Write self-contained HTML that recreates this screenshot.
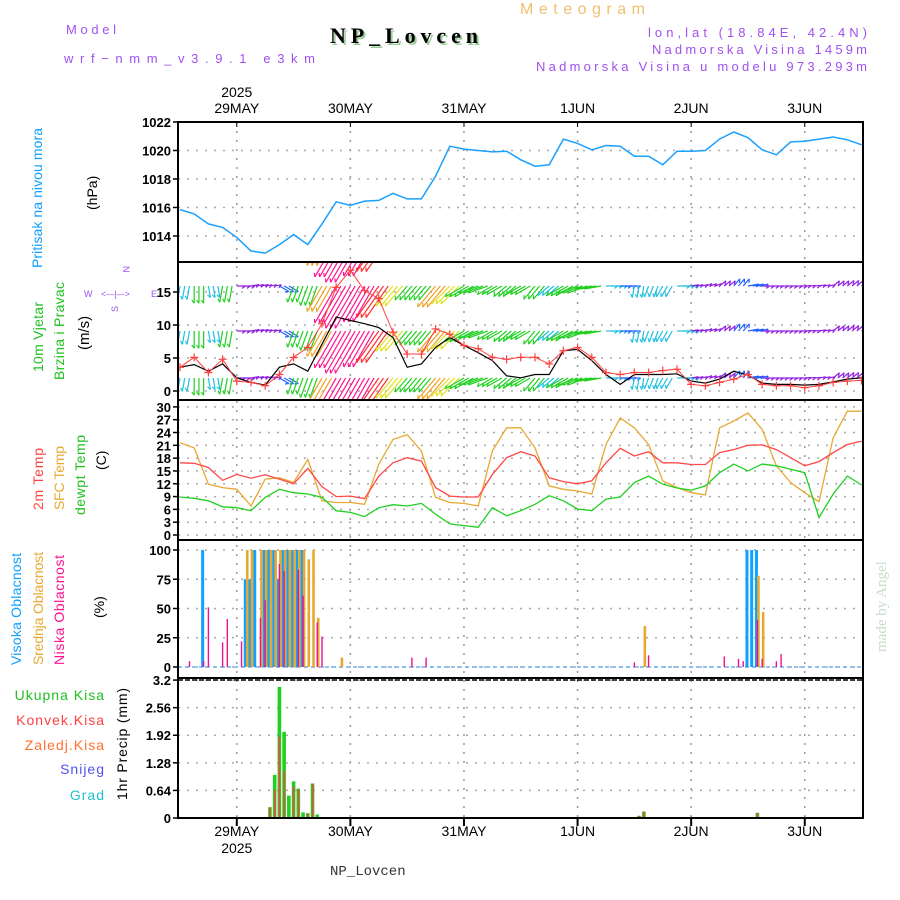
<!DOCTYPE html>
<html><head><meta charset="utf-8"><style>
html,body{margin:0;padding:0;background:#fff;}
svg{display:block;font-family:"Liberation Sans",sans-serif;}
.tk{font-size:13px;font-weight:bold;fill:#000;}
.hd{font-size:13px;fill:#a050f0;}
</style></head><body>
<svg id="chart" width="900" height="900" viewBox="0 0 900 900" xmlns="http://www.w3.org/2000/svg">
<text x="520" y="14" font-size="16" fill="#f0c070" textLength="125">Meteogram</text>
<text x="332" y="45" font-size="22" font-weight="bold" font-family="Liberation Serif,serif" fill="#9c9" textLength="148">NP_Lovcen</text>
<text x="330" y="43" font-size="22" font-weight="bold" font-family="Liberation Serif,serif" fill="#000" textLength="148">NP_Lovcen</text>
<text class="hd" x="66" y="34" textLength="50">Model</text>
<text class="hd" x="64" y="63" font-size="15" textLength="251">wrf−nmm_v3.9.1 e3km</text>
<text class="hd" x="648" y="37" textLength="219">lon,lat (18.84E, 42.4N)</text>
<text class="hd" x="652" y="54" textLength="215">Nadmorska Visina 1459m</text>
<text class="hd" x="536" y="71" textLength="331">Nadmorska Visina u modelu 973.293m</text>
<g id="grid"></g><g id="marks"></g><g id="axes"></g>
<g font-size="14">
<text transform="translate(42,268) rotate(-90)" fill="#10a0ff" textLength="140">Pritisak na nivou mora</text>
<text transform="translate(97,210) rotate(-90)" fill="#000">(hPa)</text>
<text transform="translate(43,372) rotate(-90)" fill="#20c020" textLength="70">10m Vjetar</text>
<text transform="translate(64,380) rotate(-90)" fill="#20c020" textLength="98">Brzina i Pravac</text>
<text transform="translate(89,350) rotate(-90)" fill="#000" font-size="15">(m/s)</text>
<text font-size="9" fill="#a050f0" x="84" y="297">W</text>
<text font-size="9" fill="#a050f0" x="101" y="297">&lt;-–|–-&gt;</text>
<text font-size="9" fill="#a050f0" x="151" y="297">E</text>
<text transform="translate(123,266) rotate(90)" font-size="9" fill="#a050f0">N</text>
<text transform="translate(118,312) rotate(-90)" font-size="9" fill="#a050f0">S</text>
<text transform="translate(43,510) rotate(-90)" fill="#ff4040" textLength="62">2m Temp</text>
<text transform="translate(64,510) rotate(-90)" fill="#e8a830" textLength="64">SFC Temp</text>
<text transform="translate(85,515) rotate(-90)" fill="#20c020" textLength="80">dewpt Temp</text>
<text transform="translate(106,470) rotate(-90)" fill="#000">(C)</text>
<text transform="translate(21,665) rotate(-90)" fill="#10a0ff" textLength="112">Visoka Oblacnost</text>
<text transform="translate(43,665) rotate(-90)" fill="#e8a830" textLength="113">Srednja Oblacnost</text>
<text transform="translate(64,665) rotate(-90)" fill="#ff1090" textLength="110">Niska Oblacnost</text>
<text transform="translate(104,618) rotate(-90)" fill="#000">(%)</text>
<text x="105" y="700" text-anchor="end" fill="#20c020" letter-spacing="1">Ukupna  Kisa</text>
<text x="105" y="725" text-anchor="end" fill="#ff4040" letter-spacing="1">Konvek.Kisa</text>
<text x="105" y="750" text-anchor="end" fill="#ff7030" letter-spacing="1">Zaledj.Kisa</text>
<text x="105" y="774" text-anchor="end" fill="#5050f0" letter-spacing="1">Snijeg</text>
<text x="105" y="800" text-anchor="end" fill="#20c0d0" letter-spacing="1">Grad</text>
<text transform="translate(127,800) rotate(-90)" fill="#000" textLength="112">1hr Precip (mm)</text>
</g>
<text transform="translate(886,652) rotate(-90)" font-family="Liberation Serif,serif" font-size="15" fill="#c8dcc8">made by Angel</text>
<text x="330" y="875" font-family="Liberation Mono,monospace" font-size="14" fill="#333">NP_Lovcen</text>
</svg>
<script>
const pressure=[1015.85,1015.55,1014.85,1014.6,1013.9,1012.95,1012.8,1013.4,1014.1,1013.4,1014.85,1016.4,1016.15,1016.45,1016.5,1017.0,1016.6,1016.6,1018.2,1020.3,1020.1,1020.0,1019.9,1019.95,1019.35,1018.9,1019.0,1020.8,1020.5,1020.05,1020.35,1020.3,1019.6,1019.6,1019.0,1019.95,1019.95,1020.0,1020.8,1021.3,1020.9,1020.05,1019.7,1020.6,1020.65,1020.8,1020.95,1020.75,1020.4];
const windSpeed=[3.6,5.1,2.8,4.8,1.5,1.3,0.8,2.5,5.1,6.6,10.2,15.7,18.3,15.2,14.0,8.9,5.6,5.6,9.4,8.6,6.9,6.4,5.1,4.8,5.1,5.1,4.1,6.1,6.6,5.1,2.8,2.5,2.8,2.8,3.1,3.3,1.0,0.8,1.3,1.8,2.5,1.0,0.8,0.8,0.5,0.8,1.3,1.5,1.6];
const windBlack=[3.6,4.0,3.0,4.1,2.0,1.3,0.9,3.6,4.1,3.0,7.1,11.2,10.7,10.2,9.6,8.1,3.6,4.1,6.6,8.1,6.9,5.8,4.6,2.3,2.0,2.5,2.5,6.1,6.3,4.6,2.5,1.0,2.5,2.5,2.5,2.6,1.5,1.2,1.8,3.0,2.4,1.2,1.0,1.0,0.9,1.0,1.4,1.8,2.0];
const windDir=[10,0,350,10,270,260,260,300,20,20,30,30,30,30,35,40,40,40,40,45,60,70,60,50,60,40,50,60,70,80,270,270,10,20,30,270,260,250,230,220,260,270,270,270,265,260,230,230,240];
const temp2m=[16.9,16.8,15.8,12.8,14.2,13.3,14.1,13.1,12.0,15.6,11.3,9.0,9.1,8.5,13.8,16.9,18.1,17.3,11.1,9.1,8.9,8.9,14.2,18.1,19.5,18.5,13.4,12.5,12.0,12.7,16.9,20.3,18.5,19.5,16.9,16.9,16.5,16.5,19.3,20.0,21.0,21.1,20.0,18.1,16.2,17.2,19.3,21.2,22.0];
const tempSfc=[21.6,20.4,11.9,11.1,10.7,6.8,13.1,13.4,12.3,17.7,8.0,7.6,7.6,7.2,16.6,22.4,23.5,19.7,8.8,7.6,7.4,6.8,19.7,25.1,25.1,20.4,11.5,10.7,10.3,9.6,21.2,27.4,25.1,21.2,12.7,11.1,9.9,9.4,25.1,26.7,28.6,24.7,16.2,12.3,9.9,7.8,22.8,29.0,29.0];
const tempDew=[8.9,8.6,8.0,6.6,6.4,5.7,8.8,10.7,9.9,9.6,8.8,5.7,5.3,4.3,6.4,7.1,6.8,7.4,4.9,2.6,2.2,1.8,6.4,4.5,5.7,7.2,9.2,8.0,6.1,5.7,8.4,8.9,12.3,13.8,11.9,11.0,10.5,11.5,14.6,16.6,15.0,16.6,16.2,15.4,14.6,4.1,9.6,13.8,11.7];
const highHours=[5,14,15,16,18,19,20,21,22,23,24,25,26,120,121,122];
const highVals=[100,75,75,100,100,100,100,75,100,100,100,100,100,100,100,100];
const midHours=[14,15,17,18,19,20,21,22,23,24,25,26,27,28,29,34,98,122,123];
const midVals=[100,100,100,100,100,100,100,100,100,100,100,100,92,100,42,8,35,78,47];
const lowHours=[2,5,6,9,10,13,17,18,21,22,25,26,29,30,49,52,96,99,115,118,119,122,123,126,127];
const lowVals=[5,5,51,21,41,22,42,57,88,82,83,61,38,26,8,8,4,10,9,7,5,40,7,5,11];
const precipHours=[19,20,21,22,23,24,25,26,27,28,29,97,98,122];
const precipTotal=[0.25,1.0,3.04,2.0,0.52,0.85,0.68,0.13,0.11,0.8,0.08,0.05,0.15,0.12];
const precipConv=[0.25,0.65,1.88,1.1,0,0.73,0.66,0,0.11,0.8,0,0.05,0.15,0.12];
const dayLabels=['29MAY','30MAY','31MAY','1JUN','2JUN','3JUN'];
const pTicks=[1014,1016,1018,1020,1022];
const wTicks=[0,5,10,15];
const tTicks=[0,3,6,9,12,15,18,21,24,27,30];
const cTicks=[0,25,50,75,100];
const rTicks=['0','0.64','1.28','1.92','2.56','3.2'];

const NS='http://www.w3.org/2000/svg';
const L=178,R=863;
const xh=h=>180+h*4.733;
const yP=v=>122+(1022-v)*14.25;
const yW=v=>391-v*6.6;
const yT=v=>535-v*4.27;
const yC=v=>667-v*1.17;
const yR=v=>818-v*43.1;
const panels=[[122,262],[262,400],[400,540],[540,678],[678,818]];
function mk(tag,attrs,parent){const e=document.createElementNS(NS,tag);for(const k in attrs)e.setAttribute(k,attrs[k]);parent.appendChild(e);return e;}
const grid=document.getElementById('grid'),marks=document.getElementById('marks'),axes=document.getElementById('axes');
const svg=document.getElementById('chart');
const defs=mk('defs',{},svg);
const cp=mk('clipPath',{id:'wclip'},defs);mk('rect',{x:L,y:263,width:R-L,height:136},cp);

for(let d=0;d<6;d++){const x=xh(12+24*d);
 const g=mk('line',{x1:x,x2:x,y1:122,y2:818,stroke:'#999','stroke-dasharray':'2,7','stroke-width':1.5},grid);
 
 const t=mk('text',{x:x,y:113,'text-anchor':'middle','font-size':14},axes);t.textContent=dayLabels[d];
 
 const b=mk('text',{x:x,y:836,'text-anchor':'middle','font-size':14},axes);b.textContent=dayLabels[d];
 
 mk('line',{x1:x,x2:x,y1:122,y2:127,stroke:'#000'},axes);mk('line',{x1:x,x2:x,y1:818,y2:826,stroke:'#000','stroke-width':2},axes);
}
const y1=mk('text',{x:xh(12),y:97,'text-anchor':'middle','font-size':14},axes);y1.textContent='2025';

const y2=mk('text',{x:xh(12),y:853,'text-anchor':'middle','font-size':14},axes);y2.textContent='2025';


function hgrid(vals,fn,labels,name){vals.forEach((v,i)=>{const y=fn(v);
 const g=mk('line',{x1:L,x2:R,y1:y,y2:y,stroke:'#aaa','stroke-dasharray':'2,7','stroke-width':1.5},grid);
 
 mk('line',{x1:L-5,x2:L,y1:y,y2:y,stroke:'#000','stroke-width':1.5},axes);
 const t=mk('text',{x:L-7,y:y+5,'text-anchor':'end',class:'tk'},axes);t.textContent=labels?labels[i]:v;
 });}
hgrid(pTicks,yP,null,'pressure');
hgrid(wTicks,yW,null,'wind');
hgrid(tTicks,yT,null,'temp');
hgrid(cTicks,yC,null,'cloud');
hgrid(rTicks.map(Number),yR,rTicks,'precip');

function line(arr,fn,color,name,w){const pts=arr.map((v,i)=>xh(i*3).toFixed(1)+','+fn(v).toFixed(1)).join(' ');
 const p=mk('polyline',{points:pts,fill:'none',stroke:color,'stroke-width':w||1.3},marks);
 return p;}
line(pressure,yP,'#1aa0ff','pressure-line',1.5);
line(tempSfc,yT,'#e8a830','sfc-temp-line');
line(temp2m,yT,'#ff4848','temp-2m-line');
line(tempDew,yT,'#20d020','dewpoint-line');

const wg=mk('g',{'clip-path':'url(#wclip)'},marks);

function wcol(s){return s<1.6?'#9020e0':s<2.6?'#2060ff':s<4.8?'#20c0e0':s<7?'#20d020':s<9?'#e0e020':s<12?'#f0a020':s<15?'#ff3030':'#ff1090';}
const rows=[240,286,331,378];
for(let h=0;h<=144;h++){const i=Math.min(48,Math.floor(h/3));const s=windSpeed[i],d=windDir[i];
 const th=(d+180)*Math.PI/180,len=5+s*2.4;const x0=xh(h);
 rows.forEach(r=>{const x1=x0+Math.sin(th)*len,yy=r-Math.cos(th)*len;
  const b=mk('line',{x1:x0,y1:r,x2:x1,y2:yy,stroke:wcol(s),'stroke-width':1.2},wg);
  
  mk('line',{x1:x1,y1:yy,x2:x1+Math.sin(th+2.5)*4,y2:yy-Math.cos(th+2.5)*4,stroke:wcol(s),'stroke-width':1.2},wg);});}
const wl=mk('g',{'clip-path':'url(#wclip)'},marks);
const bl=line(windBlack,yW,'#000','wind-black-line',1.2);wl.appendChild(bl);
const rl=line(windSpeed,yW,'#ff4040','wind-speed-line',1);wl.appendChild(rl);
windSpeed.forEach((v,i)=>{const x=xh(i*3),y=yW(v);
 const m=mk('path',{d:`M${x-4},${y}H${x+4}M${x},${y-4}V${y+4}`,stroke:'#ff4040','stroke-width':1.2},wl);
 });

mk('line',{x1:L,x2:R,y1:yC(0),y2:yC(0),stroke:'#6ab0f0','stroke-width':1.5,'stroke-dasharray':'4,3'},marks);
function bars(hs,vs,fn,color,w,name,off){hs.forEach((h,i)=>{const x=xh(h)+(off||0),y=fn(vs[i]);
 const r=mk('rect',{x:x-w/2,y:y,width:w,height:Math.max(0,fn(0)-y),fill:color},marks);
 });}
bars(highHours,highVals,yC,'#10a0ff',3,'high-cloud-bar',-1);
bars(midHours,midVals,yC,'#e8a830',2.6,'mid-cloud-bar',1);
bars(lowHours,lowVals,yC,'#f01090',1.4,'low-cloud-bar',0);
bars(precipHours,precipTotal,yR,'#20d020',3.6,'total-precip-bar',0);
bars(precipHours,precipConv,yR,'#ff4040',1.5,'convective-precip-bar',0);
mk('line',{x1:L,x2:R,y1:680,y2:680,stroke:'#000','stroke-width':1.5,'stroke-dasharray':'5,2'},axes);

panels.forEach((p,i)=>{const r=mk('rect',{x:L,y:p[0],width:R-L,height:p[1]-p[0],fill:'none',stroke:'#000','stroke-width':2},axes);
 });
</script>
</body></html>
